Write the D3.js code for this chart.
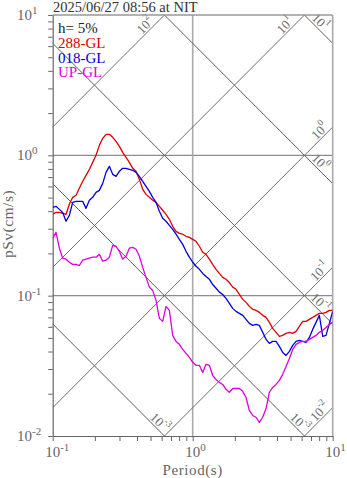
<!DOCTYPE html>
<html>
<head>
<meta charset="utf-8">
<script src="https://cdn.jsdelivr.net/npm/d3@7"></script>
<style>
  body { margin: 0; background: #fff; }
  text { font-family: "Liberation Serif", "DejaVu Serif", serif; }
</style>
</head>
<body>
<svg id="chart" width="347" height="478"></svg>
<script>
// Pseudo-velocity response spectra, 5% damping
const periods = [
  0.1000,0.1056,0.1116,0.1179,0.1245,0.1315,0.1389,0.1468,0.1550,0.1638,0.1730,0.1828,0.1931,0.2039,
  0.2154,0.2276,0.2404,0.2539,0.2683,0.2834,0.2994,0.3162,0.3341,0.3529,0.3728,0.3938,0.4160,0.4394,
  0.4642,0.4904,0.5179,0.5471,0.5780,0.6105,0.6449,0.6813,0.7197,0.7603,0.8031,0.8483,0.8961,0.9466,
  1.000,1.056,1.116,1.179,1.245,1.315,1.389,1.468,1.550,1.638,1.730,1.828,1.931,2.039,
  2.154,2.276,2.404,2.539,2.683,2.834,2.994,3.162,3.341,3.529,3.728,3.938,4.160,4.394,
  4.642,4.904,5.179,5.471,5.780,6.105,6.449,6.813,7.197,7.603,8.031,8.483,8.961,9.466,10.00
];

const sv288 = [
  0.380,0.392,0.392,0.386,0.380,0.448,0.502,0.519,0.582,0.653,
  0.720,0.795,0.891,1.000,1.178,1.322,1.411,1.411,1.344,1.258,
  1.159,1.050,0.968,0.891,0.808,0.769,0.674,0.572,0.527,0.502,
  0.478,0.462,0.433,0.406,0.380,0.350,0.312,0.287,0.278,0.274,
  0.265,0.260,0.252,0.244,0.225,0.204,0.197,0.182,0.167,0.154,
  0.144,0.135,0.131,0.124,0.115,0.111,0.102,0.0941,0.0896,0.0839,
  0.0799,0.0786,0.0760,0.0724,0.0700,0.0645,0.0585,0.0548,0.0513,0.0521,
  0.0539,0.0548,0.0539,0.0557,0.0604,0.0656,0.0656,0.0678,0.0700,0.0724,
  0.0748,0.0748,0.0760,0.0786,0.0786
];

const sv018 = [
  0.426,0.433,0.412,0.392,0.339,0.373,0.462,0.470,0.470,0.470,
  0.419,0.478,0.502,0.545,0.563,0.631,0.756,0.835,0.732,0.708,
  0.769,0.808,0.808,0.795,0.782,0.756,0.708,0.653,0.601,0.554,
  0.502,0.462,0.399,0.356,0.339,0.317,0.297,0.274,0.252,0.232,
  0.207,0.188,0.173,0.162,0.154,0.144,0.137,0.131,0.120,0.113,
  0.106,0.102,0.0957,0.0881,0.0812,0.0773,0.0748,0.0724,0.0678,0.0635,
  0.0614,0.0624,0.0614,0.0548,0.0488,0.0457,0.0472,0.0472,0.0435,0.0394,
  0.0375,0.0401,0.0442,0.0472,0.0480,0.0472,0.0465,0.0504,0.0575,0.0645,
  0.0724,0.0513,0.0521,0.0635,0.0773
];

const svUP = [
  0.256,0.283,0.218,0.185,0.182,0.173,0.167,0.167,0.164,0.179,
  0.182,0.185,0.188,0.188,0.197,0.176,0.179,0.188,0.228,0.225,
  0.207,0.182,0.191,0.218,0.221,0.214,0.191,0.159,0.135,0.115,
  0.109,0.0926,0.0689,0.0656,0.0839,0.0786,0.0521,0.0472,0.0450,0.0414,
  0.0388,0.0363,0.0335,0.0319,0.0319,0.0284,0.0324,0.0319,0.0270,0.0253,
  0.0241,0.0233,0.0215,0.0205,0.0218,0.0218,0.0218,0.0208,0.0188,0.0152,
  0.0140,0.0136,0.0125,0.0136,0.0157,0.0205,0.0222,0.0233,0.0249,0.0275,
  0.0313,0.0357,0.0414,0.0450,0.0465,0.0472,0.0472,0.0488,0.0504,0.0521,
  0.0548,0.0566,0.0594,0.0624,0.0645
];

const seriesNames  = ["288-GL", "018-GL", "UP-GL"];
const seriesColors = ["#dd0000", "#0000dd", "#dd00dd"];

// Tripartite guide lines: displacement (cm) and acceleration (cm/s^2)
const dispLevels = [1e-3, 1e-2, 1e-1, 1, 10];
const dispExps   = ["-3", "-3", "-1", "0", "1"];
const accLevels  = [1e-2, 1e-1, 1, 10, 100];
const accExps    = ["-2", "-1", "0", "1", "2"];

const xTickValues = [0.1, 1, 10];
const xTickExps   = ["-1", "0", "1"];
const yTickValues = [0.01, 0.1, 1, 10];
const yTickExps   = ["-2", "-1", "0", "1"];

const titleText   = "2025/06/27 08:56 at NIT";
const dampingText = "h= 5%";
const xLabel = "Period(s)";
const yLabel = "pSv(cm/s)";

// ---- layout ----
const L = 52.7, R = 332.7, T = 15, B = 436;
const svg = d3.select("#chart");
const x = d3.scaleLog().domain([0.1, 10]).range([L, R]);
const y = d3.scaleLog().domain([0.01, 10]).range([B, T]);

svg.append("defs").append("clipPath").attr("id", "plotClip")
  .append("rect").attr("x", L).attr("y", T).attr("width", R - L).attr("height", B - T);

const minorTicks = (lo, hi) => {
  const out = [];
  for (let e = lo; e < hi; e++) for (let m = 1; m < 10; m++) out.push(m * Math.pow(10, e));
  out.push(Math.pow(10, hi));
  return out;
};

// grid lines
const grid = svg.append("g");
grid.selectAll("line.h").data([0.1, 1]).join("line")
  .attr("x1", L).attr("x2", R).attr("y1", d => y(d)).attr("y2", d => y(d))
  .attr("stroke", "#8c8c8c").attr("stroke-width", 1.2);
grid.append("line").attr("x1", x(1)).attr("x2", x(1)).attr("y1", T).attr("y2", B)
  .attr("stroke", "#aaa").attr("stroke-width", 1.6);

// diagonal guide lines
const diag = svg.append("g").attr("clip-path", "url(#plotClip)");
const twoPi = 2 * Math.PI;
const dispSv = (d, t) => twoPi * d / t;
const accSv  = (a, t) => a * t / twoPi;
dispLevels.forEach(d => {
  diag.append("line")
    .attr("x1", x(0.01)).attr("y1", y(dispSv(d, 0.01)))
    .attr("x2", x(100)).attr("y2", y(dispSv(d, 100)))
    .attr("stroke", "#5e5e5e").attr("stroke-width", 1);
});
accLevels.forEach(a => {
  diag.append("line")
    .attr("x1", x(0.01)).attr("y1", y(accSv(a, 0.01)))
    .attr("x2", x(100)).attr("y2", y(accSv(a, 100)))
    .attr("stroke", "#6e6e6e").attr("stroke-width", 1);
});

// guide line labels
const r2 = Math.SQRT1_2;
function expLabel(g, base, exp, size) {
  const t = g.append("text").attr("text-anchor", "middle").attr("dominant-baseline", "central")
    .attr("fill", "#6a6a6a").attr("font-size", size);
  t.append("tspan").text(base);
  t.append("tspan").attr("dy", -size * 0.38).attr("font-size", size * 0.72).text(exp);
  return t;
}
const lab = svg.append("g");
dispLevels.forEach((d, i) => {
  // lower-right end of the line
  let ex, ey, s;
  const svEnd = dispSv(d, 10);
  if (svEnd >= 0.01) { ex = x(10); ey = y(svEnd); s = 24; }
  else { ex = x(twoPi * d / 0.01); ey = y(0.01); s = 13; }
  const p = 7;
  const cx = ex - s * r2 + p * r2, cy = ey - s * r2 - p * r2;
  const g = lab.append("g").attr("transform", `translate(${cx},${cy}) rotate(45)`);
  expLabel(g, "10", dispExps[i], 13);
});
accLevels.forEach((a, i) => {
  // upper-right end of the line
  let ex, ey, s;
  const svEnd = accSv(a, 10);
  if (svEnd <= 10) { ex = x(10); ey = y(svEnd); s = 12; }
  else { ex = x(twoPi * 10 / a); ey = y(10); s = 21; }
  const p = 7;
  const cx = ex - s * r2 - p * r2, cy = ey + s * r2 - p * r2;
  const g = lab.append("g").attr("transform", `translate(${cx},${cy}) rotate(-45)`);
  expLabel(g, "10", accExps[i], 13);
});

// frame
svg.append("line").attr("x1", L).attr("x2", R).attr("y1", T).attr("y2", T)
  .attr("stroke", "#999").attr("stroke-width", 1.4);
svg.append("line").attr("x1", R).attr("x2", R).attr("y1", T).attr("y2", B)
  .attr("stroke", "#aaa").attr("stroke-width", 1.6);

// axes
const axX = svg.append("g").attr("transform", `translate(0,${B})`)
  .call(d3.axisBottom(x).tickValues(minorTicks(-1, 1)).tickFormat("").tickSize(5).tickSizeOuter(0));
const axY = svg.append("g").attr("transform", `translate(${L},0)`)
  .call(d3.axisLeft(y).tickValues(minorTicks(-2, 1)).tickFormat("").tickSize(4.5).tickSizeOuter(0));
[axX, axY].forEach(a => {
  a.select(".domain").attr("stroke", "#666").attr("stroke-width", 1.2);
  a.selectAll(".tick line").attr("stroke", "#666").attr("stroke-width", 1);
});

// tick labels
xTickValues.forEach((v, i) => {
  const t = svg.append("text").attr("x", x(v) - 7.5).attr("y", 457)
    .attr("fill", "#666").attr("font-size", 15);
  t.append("tspan").text("10");
  t.append("tspan").attr("dy", -6).attr("font-size", 11).text(xTickExps[i]);
});
yTickValues.forEach((v, i) => {
  const t = svg.append("text").attr("x", 17).attr("y", y(v) + 5)
    .attr("fill", "#666").attr("font-size", 15);
  t.append("tspan").text("10");
  t.append("tspan").attr("dy", -6).attr("font-size", 11).text(yTickExps[i]);
});

// axis titles
svg.append("text").attr("x", x(1)).attr("y", 474.5).attr("text-anchor", "middle")
  .attr("fill", "#666").attr("font-size", 15).attr("letter-spacing", 0.6).text(xLabel);
svg.append("text").attr("transform", "translate(13,224) rotate(-90)").attr("text-anchor", "middle")
  .attr("fill", "#666").attr("font-size", 15.5).attr("letter-spacing", 0.5).text(yLabel);

// spectra
const curves = svg.append("g").attr("clip-path", "url(#plotClip)");
const line = d3.line().x((d, i) => x(periods[i])).y(d => y(d));
[sv288, sv018, svUP].forEach((vals, i) => {
  curves.append("path").datum(vals).attr("d", line)
    .attr("fill", "none").attr("stroke", seriesColors[i]).attr("stroke-width", 1.3)
    .attr("stroke-linejoin", "round");
});

// title and legend
svg.append("text").attr("x", 53).attr("y", 11.5).attr("fill", "#333")
  .attr("font-size", 14.5).text(titleText);
svg.append("text").attr("x", 58).attr("y", 33).attr("fill", "#222")
  .attr("font-size", 15).text(dampingText);
seriesNames.forEach((n, i) => {
  svg.append("text").attr("x", 58).attr("y", 47.8 + i * 14.7)
    .attr("fill", seriesColors[i]).attr("font-size", 15).text(n);
});
</script>
</body>
</html>
